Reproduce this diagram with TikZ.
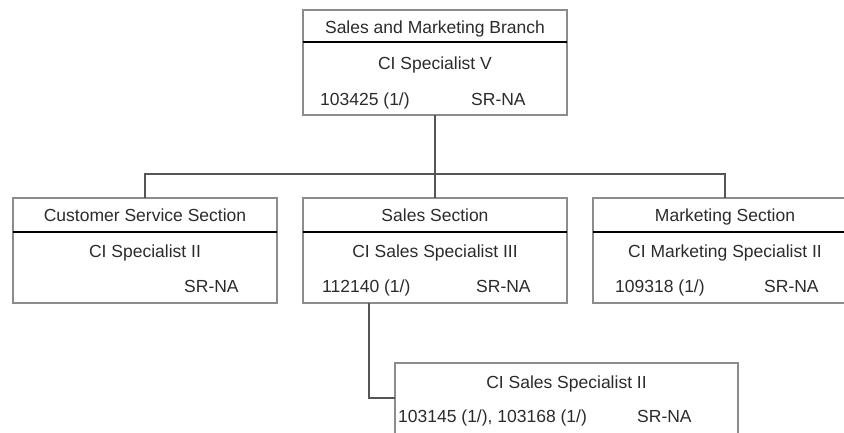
\documentclass[tikz,border=0pt]{standalone}
\usepackage{fontspec}
\setmainfont{Liberation Sans}
\usetikzlibrary{positioning}
\definecolor{boxgray}{HTML}{8C8C8C}
\definecolor{linegray}{HTML}{555555}
\definecolor{txtgray}{HTML}{2B2B2B}

\begin{document}
\begin{tikzpicture}[
  x=1pt, y=-1pt,
  node distance=83pt and 26pt,
  box/.style={
    draw=boxgray, line width=1.5pt, inner sep=0pt, outer sep=0pt,
    minimum width=264pt, minimum height=105pt
  },
  txt/.style={font=\fontsize{17.5}{21}\selectfont, text=txtgray, inner sep=0pt, anchor=base},
  num/.style={txt, anchor=base west},
  divider/.style={line width=1.2pt, black},
  conn/.style={line width=1.5pt, linegray}
]
\clip (0,0) rectangle (844,432);

% Branch
\node[box, anchor=north west] (branch) at (303,10) {};
\draw[divider] ([yshift=-32pt]branch.north west) -- ([yshift=-32pt]branch.north east);
\node[txt] (branch-title) at ([yshift=-23pt]branch.north) {Sales and Marketing Branch};
\node[txt] (branch-pos) at ([yshift=-59pt]branch.north) {CI Specialist V};
\node[num] (branch-num) at ([xshift=17pt,yshift=-95pt]branch.north west) {103425 (1/)};
\node[num] (branch-sr) at ([xshift=168pt,yshift=-95pt]branch.north west) {SR-NA};

% Sections
\node[box, below=of branch] (sales) {};
\node[box, left=of sales] (custsvc) {};
\node[box, right=of sales] (mktg) {};

\draw[divider] ([yshift=-34pt]custsvc.north west) -- ([yshift=-34pt]custsvc.north east);
\node[txt] (custsvc-title) at ([yshift=-23pt]custsvc.north) {Customer Service Section};
\node[txt] (custsvc-pos) at ([yshift=-59pt]custsvc.north) {CI Specialist II};
\node[num] (custsvc-sr) at ([xshift=171pt,yshift=-94pt]custsvc.north west) {SR-NA};

\draw[divider] ([yshift=-34pt]sales.north west) -- ([yshift=-34pt]sales.north east);
\node[txt] (sales-title) at ([yshift=-23pt]sales.north) {Sales Section};
\node[txt] (sales-pos) at ([yshift=-59pt]sales.north) {CI Sales Specialist III};
\node[num] (sales-num) at ([xshift=19pt,yshift=-94pt]sales.north west) {112140 (1/)};
\node[num] (sales-sr) at ([xshift=173pt,yshift=-94pt]sales.north west) {SR-NA};

\draw[divider] ([yshift=-34pt]mktg.north west) -- ([yshift=-34pt]mktg.north east);
\node[txt] (mktg-title) at ([yshift=-23pt]mktg.north) {Marketing Section};
\node[txt] (mktg-pos) at ([yshift=-59pt]mktg.north) {CI Marketing Specialist II};
\node[num] (mktg-num) at ([xshift=22pt,yshift=-94pt]mktg.north west) {109318 (1/)};
\node[num] (mktg-sr) at ([xshift=171pt,yshift=-94pt]mktg.north west) {SR-NA};

% Sales staff
\node[box, minimum width=343pt, anchor=north west] (salesstaff) at (395,363) {};
\node[txt] (salesstaff-pos) at ([yshift=-25pt]salesstaff.north) {CI Sales Specialist II};
\node[num] (salesstaff-num) at ([xshift=3pt,yshift=-59pt]salesstaff.north west) {103145 (1/), 103168 (1/)};
\node[num] (salesstaff-sr) at ([xshift=242pt,yshift=-59pt]salesstaff.north west) {SR-NA};

% Connectors
\coordinate (bus) at ([yshift=-59pt]branch.south);
\draw[conn] (branch.south) -- (bus);
\draw[conn] (bus) -| (custsvc.north);
\draw[conn] (bus) -| (mktg.north);
\draw[conn] (bus) -- (sales.north);
\coordinate (tap) at ([xshift=66pt]sales.south west);
\draw[conn] (tap) |- ([yshift=-35pt]salesstaff.north west);

\end{tikzpicture}
\end{document}
